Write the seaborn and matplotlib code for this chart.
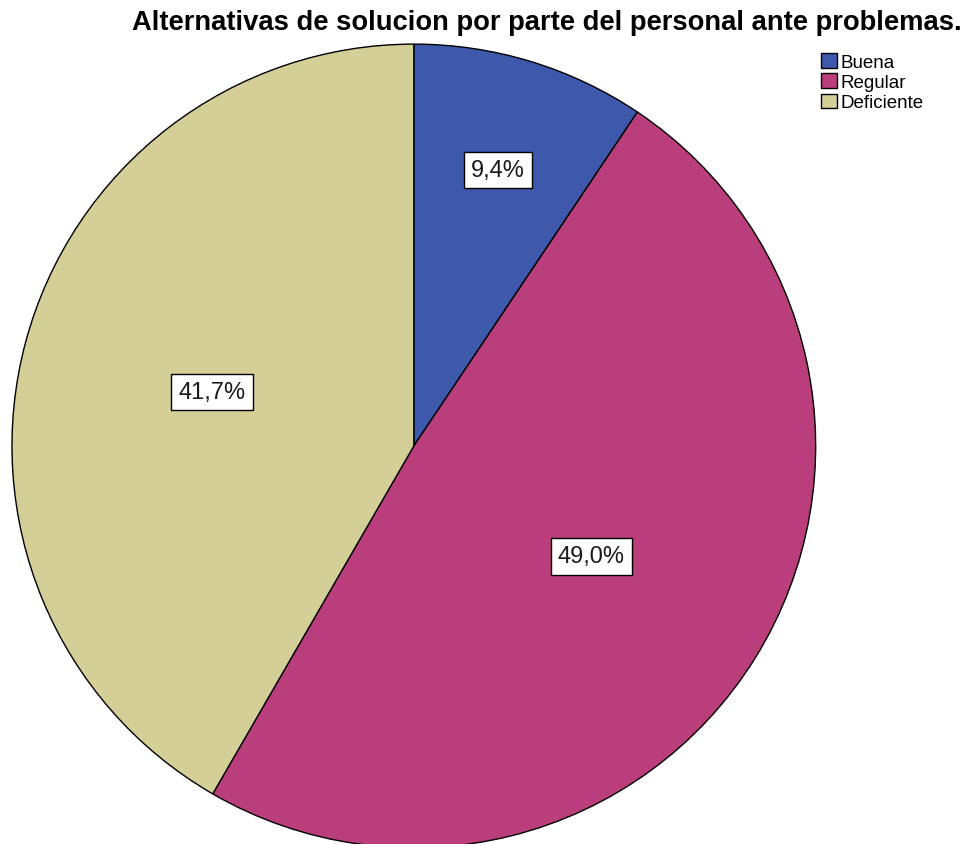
import matplotlib
matplotlib.use("Agg")
import matplotlib.pyplot as plt
import seaborn as sns

categories = ["Buena", "Regular", "Deficiente"]
percentages = [9.4, 49.0, 41.7]
title = "Alternativas de solucion por parte del personal ante problemas."

sns.set_style("white")
plt.rcParams['font.family'] = ['Liberation Sans', 'DejaVu Sans']
colors = sns.color_palette(["#3E58AC", "#BA3E7B", "#D4CE97"])

fig = plt.figure(figsize=(9.66, 8.45), dpi=100)
ax = fig.add_axes([0.0124, -0.0047, 0.832, 0.9515])

wedges, texts, autotexts = ax.pie(
    percentages, colors=colors, startangle=90, counterclock=False,
    autopct=lambda p: f"{p:.1f}%".replace(".", ","), pctdistance=0.52,
    wedgeprops=dict(edgecolor="black", linewidth=1.0),
    textprops=dict(fontsize=17, color="#1a1a1a"),
)
for t in autotexts:
    t.set_bbox(dict(facecolor="white", edgecolor="black", boxstyle="square,pad=0.3", linewidth=1.0))
# small slice label sits farther out
x, y = autotexts[0].get_position()
autotexts[0].set_position((x * 1.38, y * 1.38))

ax.set_xlim(-1, 1)
ax.set_ylim(-1, 1)
ax.set_aspect("equal")

fig.text(0.996, 0.9645, title, ha="right", va="baseline", fontsize=19.7,
         fontweight="bold", color="black")

leg = fig.legend(wedges, categories, loc="upper left", bbox_to_anchor=(0.850, 0.936),
                 frameon=False, fontsize=13.5, handlelength=0.85, handleheight=0.85,
                 handletextpad=0.2, labelspacing=0.12, borderaxespad=0, borderpad=0)
for t in leg.get_texts():
    t.set_color("black")

fig.savefig("out.png", dpi=100)
